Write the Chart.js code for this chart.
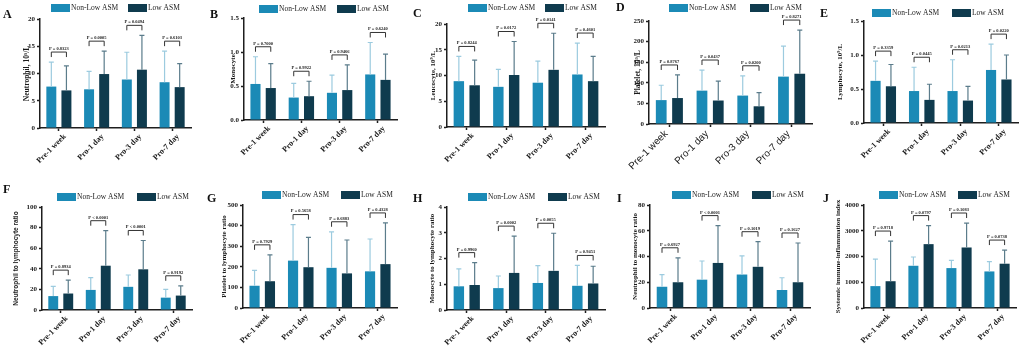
<!DOCTYPE html>
<html>
<head>
<meta charset="utf-8">
<script src="https://cdn.jsdelivr.net/npm/chart.js@4.4.0/dist/chart.umd.min.js"></script>
<style>
  body { margin: 0; background: #fff; }
  #figure { position: relative; width: 1022px; height: 348px; overflow: hidden; background: #fff; }
  #figure canvas { position: absolute; }
</style>
</head>
<body>
<div id="figure"></div>
<script>
const categories = ['Pre-1 week', 'Pro-1 day', 'Pro-3 day', 'Pro-7 day'];
const seriesNames = ['Non-Low ASM', 'Low ASM'];

// A - neutrophil
const neutrophilNonLow = [7.6, 7.1, 8.9, 8.4];
const neutrophilNonLowSD = [4.5, 3.3, 5.0, 5.7];
const neutrophilLow = [6.9, 9.9, 10.7, 7.5];
const neutrophilLowSD = [4.5, 4.2, 6.3, 4.3];
const neutrophilP = ['P = 0.8323', 'P = 0.0005', 'P = 0.0494', 'P = 0.6103'];

// B - monocyte
const monocyteNonLow = [0.53, 0.33, 0.40, 0.67];
const monocyteNonLowSD = [0.40, 0.21, 0.26, 0.47];
const monocyteLow = [0.47, 0.35, 0.44, 0.59];
const monocyteLowSD = [0.36, 0.22, 0.37, 0.38];
const monocyteP = ['P = 0.7000', 'P = 0.9922', 'P = 0.9466', 'P = 0.6240'];

// C - leucocyte
const leucocyteNonLow = [8.9, 7.8, 8.6, 10.2];
const leucocyteNonLowSD = [4.8, 3.4, 4.2, 6.1];
const leucocyteLow = [8.1, 10.1, 11.1, 8.9];
const leucocyteLowSD = [4.9, 6.5, 7.1, 4.8];
const leucocyteP = ['P = 0.8244', 'P = 0.0172', 'P = 0.0141', 'P = 0.4601'];

// D - platelet
const plateletNonLow = [58, 81, 69, 115];
const plateletNonLowSD = [36, 50, 48, 74];
const plateletLow = [63, 57, 43, 122];
const plateletLowSD = [56, 47, 33, 106];
const plateletP = ['P = 0.8767', 'P = 0.0437', 'P = 0.0200', 'P = 0.8271'];

// E - lymphocyte
const lymphocyteNonLow = [0.62, 0.47, 0.47, 0.78];
const lymphocyteNonLowSD = [0.29, 0.35, 0.46, 0.38];
const lymphocyteLow = [0.54, 0.34, 0.33, 0.64];
const lymphocyteLowSD = [0.32, 0.23, 0.21, 0.36];
const lymphocyteP = ['P = 0.3359', 'P = 0.0445', 'P = 0.0213', 'P = 0.0220'];

// F - NLR
const nlrNonLow = [13.5, 19.5, 22.5, 12];
const nlrNonLowSD = [9.5, 12, 11.5, 8];
const nlrLow = [16, 43, 39.5, 14];
const nlrLowSD = [13, 34, 28, 9.5];
const nlrP = ['P = 0.8934', 'P < 0.0001', 'P < 0.0001', 'P = 0.9192'];

// G - PLR
const plrNonLow = [108, 230, 195, 178];
const plrNonLowSD = [75, 175, 175, 157];
const plrLow = [130, 198, 168, 213];
const plrLowSD = [128, 145, 162, 200];
const plrP = ['P = 0.7929', 'P = 0.5658', 'P = 0.6883', 'P = 0.4328'];

// H - MLR
const mlrNonLow = [0.92, 0.85, 1.05, 0.94];
const mlrNonLowSD = [0.68, 0.47, 0.67, 0.79];
const mlrLow = [0.97, 1.44, 1.52, 1.03];
const mlrLowSD = [0.87, 1.43, 1.46, 0.67];
const mlrP = ['P = 0.9960', 'P = 0.0002', 'P = 0.0055', 'P = 0.9451'];

// I - NMR
const nmrNonLow = [16.5, 22, 26, 14];
const nmrNonLowSD = [9.5, 14.5, 14.5, 9.5];
const nmrLow = [20, 35, 32, 20];
const nmrLowSD = [19, 29, 19.5, 30.5];
const nmrP = ['P = 0.6927', 'P < 0.0001', 'P = 0.1019', 'P = 0.1627'];

// J - SII
const siiNonLow = [850, 1640, 1550, 1420];
const siiNonLowSD = [1050, 340, 300, 380];
const siiLow = [1040, 2480, 2350, 1720];
const siiLowSD = [1560, 720, 950, 530];
const siiP = ['P = 0.9718', 'P = 0.0797', 'P = 0.1083', 'P = 0.0738'];

const panelLetters = ['A', 'B', 'C', 'D', 'E', 'F', 'G', 'H', 'I', 'J'];
const yTitles = ['Neutrophil, 10⁹/L', 'Monocyte', 'Leucocyte, 10⁹/L', 'Platelet, 10⁹/L', 'Lymphocyte, 10⁹/L',
    'Neutrophil to lymphocyte ratio', 'Platelet to lymphocyte ratio', 'Monocyte to lymphocyte ratio',
    'Neutrophil to monocyte ratio', 'Systemic immune-inflammation index'];
const yMaxes = [20, 1.5, 20, 250, 1.5, 100, 500, 4, 80, 4000];
const ySteps = [5, 0.5, 5, 50, 0.5, 20, 100, 1, 20, 1000];

const panelValues = [
    [neutrophilNonLow, neutrophilNonLowSD, neutrophilLow, neutrophilLowSD, neutrophilP],
    [monocyteNonLow, monocyteNonLowSD, monocyteLow, monocyteLowSD, monocyteP],
    [leucocyteNonLow, leucocyteNonLowSD, leucocyteLow, leucocyteLowSD, leucocyteP],
    [plateletNonLow, plateletNonLowSD, plateletLow, plateletLowSD, plateletP],
    [lymphocyteNonLow, lymphocyteNonLowSD, lymphocyteLow, lymphocyteLowSD, lymphocyteP],
    [nlrNonLow, nlrNonLowSD, nlrLow, nlrLowSD, nlrP],
    [plrNonLow, plrNonLowSD, plrLow, plrLowSD, plrP],
    [mlrNonLow, mlrNonLowSD, mlrLow, mlrLowSD, mlrP],
    [nmrNonLow, nmrNonLowSD, nmrLow, nmrLowSD, nmrP],
    [siiNonLow, siiNonLowSD, siiLow, siiLowSD, siiP]
];

// where each panel sits on the page (canvas box, plot area inside it, axis title centre, letter, legend)
const panelLayout = [
    {left: 0,   top: 0,   w: 204, h: 172, area: [40, 19, 191, 128], titleX: 27.5, letter: [3, 10], legend: [51, 4, 77]},
    {left: 204, top: 0,   w: 204, h: 172, area: [40, 18, 193, 120], titleX: 29,   letter: [6, 10], legend: [55, 5, 78]},
    {left: 408, top: 0,   w: 204, h: 172, area: [39, 24, 197, 127], titleX: 25.5, letter: [5, 9],  legend: [60, 4, 77]},
    {left: 612, top: 0,   w: 204, h: 172, area: [37, 21, 200, 124], titleX: 26,   letter: [4, 3],  legend: [57, 4, 81]},
    {left: 816, top: 0,   w: 206, h: 172, area: [48, 21, 202, 123], titleX: 24,   letter: [4, 9],  legend: [56, 9, 80]},
    {left: 0,   top: 172, w: 204, h: 176, area: [42, 35, 192, 138], titleX: 16,   letter: [3, 13], legend: [57, 21, 80]},
    {left: 204, top: 172, w: 204, h: 176, area: [39, 33, 193, 136], titleX: 20,   letter: [3, 22], legend: [58, 19, 79]},
    {left: 408, top: 172, w: 204, h: 176, area: [39, 35, 197, 138], titleX: 24,   letter: [5, 22], legend: [60, 21, 80]},
    {left: 612, top: 172, w: 204, h: 176, area: [38, 33, 198, 136], titleX: 23,   letter: [5, 22], legend: [60, 19, 80]},
    {left: 816, top: 172, w: 206, h: 176, area: [48, 33, 200, 136], titleX: 22,   letter: [7, 22], legend: [63, 19, 79]}
];

const nonLowColor = '#1b8ab6';
const lowColor = '#0f3b4e';
const nonLowErr = '#9ccbdf';
const lowErr = '#5b7c8b';
const axisColor = '#1e1e1e';
const serif = '"Liberation Serif", "Times New Roman", serif';
const sans = '"Liberation Sans", Arial, sans-serif';

// error bars, p-value brackets, legend and panel letter
function makeDecor(k) {
    const box = panelLayout[k];
    const pValues = panelValues[k][4];
    return {
        id: 'decor' + k,
        afterDatasetsDraw(chart) {
            const ctx = chart.ctx;
            const yScale = chart.scales.y;
            const tops = [];
            ctx.save();
            chart.data.datasets.forEach((ds, d) => {
                const meta = chart.getDatasetMeta(d);
                ctx.strokeStyle = ds.errorColor;
                ctx.lineWidth = 1.2;
                tops[d] = [];
                meta.data.forEach((bar, i) => {
                    const yTop = yScale.getPixelForValue(ds.data[i] + ds.sd[i]);
                    tops[d][i] = yTop;
                    ctx.beginPath();
                    ctx.moveTo(bar.x, bar.y);
                    ctx.lineTo(bar.x, yTop);
                    ctx.moveTo(bar.x - 2.5, yTop);
                    ctx.lineTo(bar.x + 2.5, yTop);
                    ctx.stroke();
                });
            });

            const m0 = chart.getDatasetMeta(0), m1 = chart.getDatasetMeta(1);
            ctx.strokeStyle = '#333';
            ctx.lineWidth = 1;
            ctx.fillStyle = '#222';
            ctx.font = 'bold 4.5px ' + serif;
            ctx.textAlign = 'center';
            ctx.textBaseline = 'bottom';
            pValues.forEach((p, i) => {
                const x0 = m0.data[i].x, x1 = m1.data[i].x;
                const yb = Math.min(tops[0][i], tops[1][i]) - 10;
                ctx.beginPath();
                ctx.moveTo(x0, yb + 5);
                ctx.lineTo(x0, yb);
                ctx.lineTo(x1, yb);
                ctx.lineTo(x1, yb + 5);
                ctx.stroke();
                ctx.fillText(p, (x0 + x1) / 2, yb - 1);
            });

            // legend
            const [lx, ly, lowOffset] = box.legend;
            ctx.textAlign = 'left';
            ctx.textBaseline = 'middle';
            ctx.font = '7.5px ' + serif;
            [nonLowColor, lowColor].forEach((c, d) => {
                const bx = lx + d * lowOffset;
                ctx.fillStyle = c;
                ctx.fillRect(bx, ly, 19, 8);
                ctx.fillStyle = '#222';
                ctx.fillText(seriesNames[d], bx + 20, ly + 4.5);
            });

            // panel letter
            ctx.font = 'bold 12px ' + serif;
            ctx.fillStyle = '#111';
            ctx.textBaseline = 'alphabetic';
            ctx.fillText(panelLetters[k], box.letter[0], box.letter[1] + 8);
            ctx.restore();
        }
    };
}

const figure = document.getElementById('figure');

panelValues.forEach((vals, k) => {
    const box = panelLayout[k];
    const [aL, aT, aR, aB] = box.area;
    const canvas = document.createElement('canvas');
    canvas.width = box.w;
    canvas.height = box.h;
    canvas.style.left = box.left + 'px';
    canvas.style.top = box.top + 'px';
    figure.appendChild(canvas);

    const isD = k === 3;
    const titleSize = (k === 0 || k === 3) ? 7.5 : 7;
    const titleFont = {family: k === 5 ? sans : serif, weight: 'bold', size: k === 5 ? 6.5 : titleSize, lineHeight: 1.2};
    const scaleLeft = box.titleX - titleFont.size * 1.2 / 2;
    const step = ySteps[k];

    new Chart(canvas, {
        type: 'bar',
        data: {
            labels: categories,
            datasets: [
                {label: seriesNames[0], data: vals[0], sd: vals[1], backgroundColor: nonLowColor, errorColor: nonLowErr,
                    categoryPercentage: 0.8, barPercentage: 0.66, borderWidth: 0},
                {label: seriesNames[1], data: vals[2], sd: vals[3], backgroundColor: lowColor, errorColor: lowErr,
                    categoryPercentage: 0.8, barPercentage: 0.66, borderWidth: 0}
            ]
        },
        options: {
            responsive: false,
            animation: false,
            events: [],
            layout: {padding: {left: scaleLeft, top: aT, right: box.w - aR, bottom: 0}},
            plugins: {legend: {display: false}, tooltip: {enabled: false}},
            scales: {
                x: {
                    ticks: {
                        minRotation: 45, maxRotation: 45, padding: 1,
                        labelOffset: isD ? -3 : 6,
                        color: '#1a1a1a',
                        font: isD ? {family: sans, size: 10} : {family: serif, weight: 'bold', size: 8}
                    },
                    grid: {offset: false, drawOnChartArea: false, tickLength: 3, tickWidth: 1.5, tickColor: axisColor},
                    border: {display: true, color: axisColor, width: 1.5},
                    afterFit: (s) => { s.height = box.h - aB; }
                },
                y: {
                    min: 0,
                    max: yMaxes[k],
                    ticks: {
                        stepSize: step, padding: 2, color: '#1a1a1a',
                        font: {family: serif, weight: 'bold', size: 7},
                        callback: (v) => step < 1 ? v.toFixed(1) : v
                    },
                    grid: {drawOnChartArea: false, tickLength: 3, tickWidth: 1.5, tickColor: axisColor},
                    border: {display: true, color: axisColor, width: 1.5},
                    title: {display: true, text: yTitles[k], color: '#1a1a1a', font: titleFont, padding: 0},
                    afterFit: (s) => { s.width = aL - scaleLeft; }
                }
            }
        },
        plugins: [makeDecor(k)]
    });
});
</script>
</body>
</html>
